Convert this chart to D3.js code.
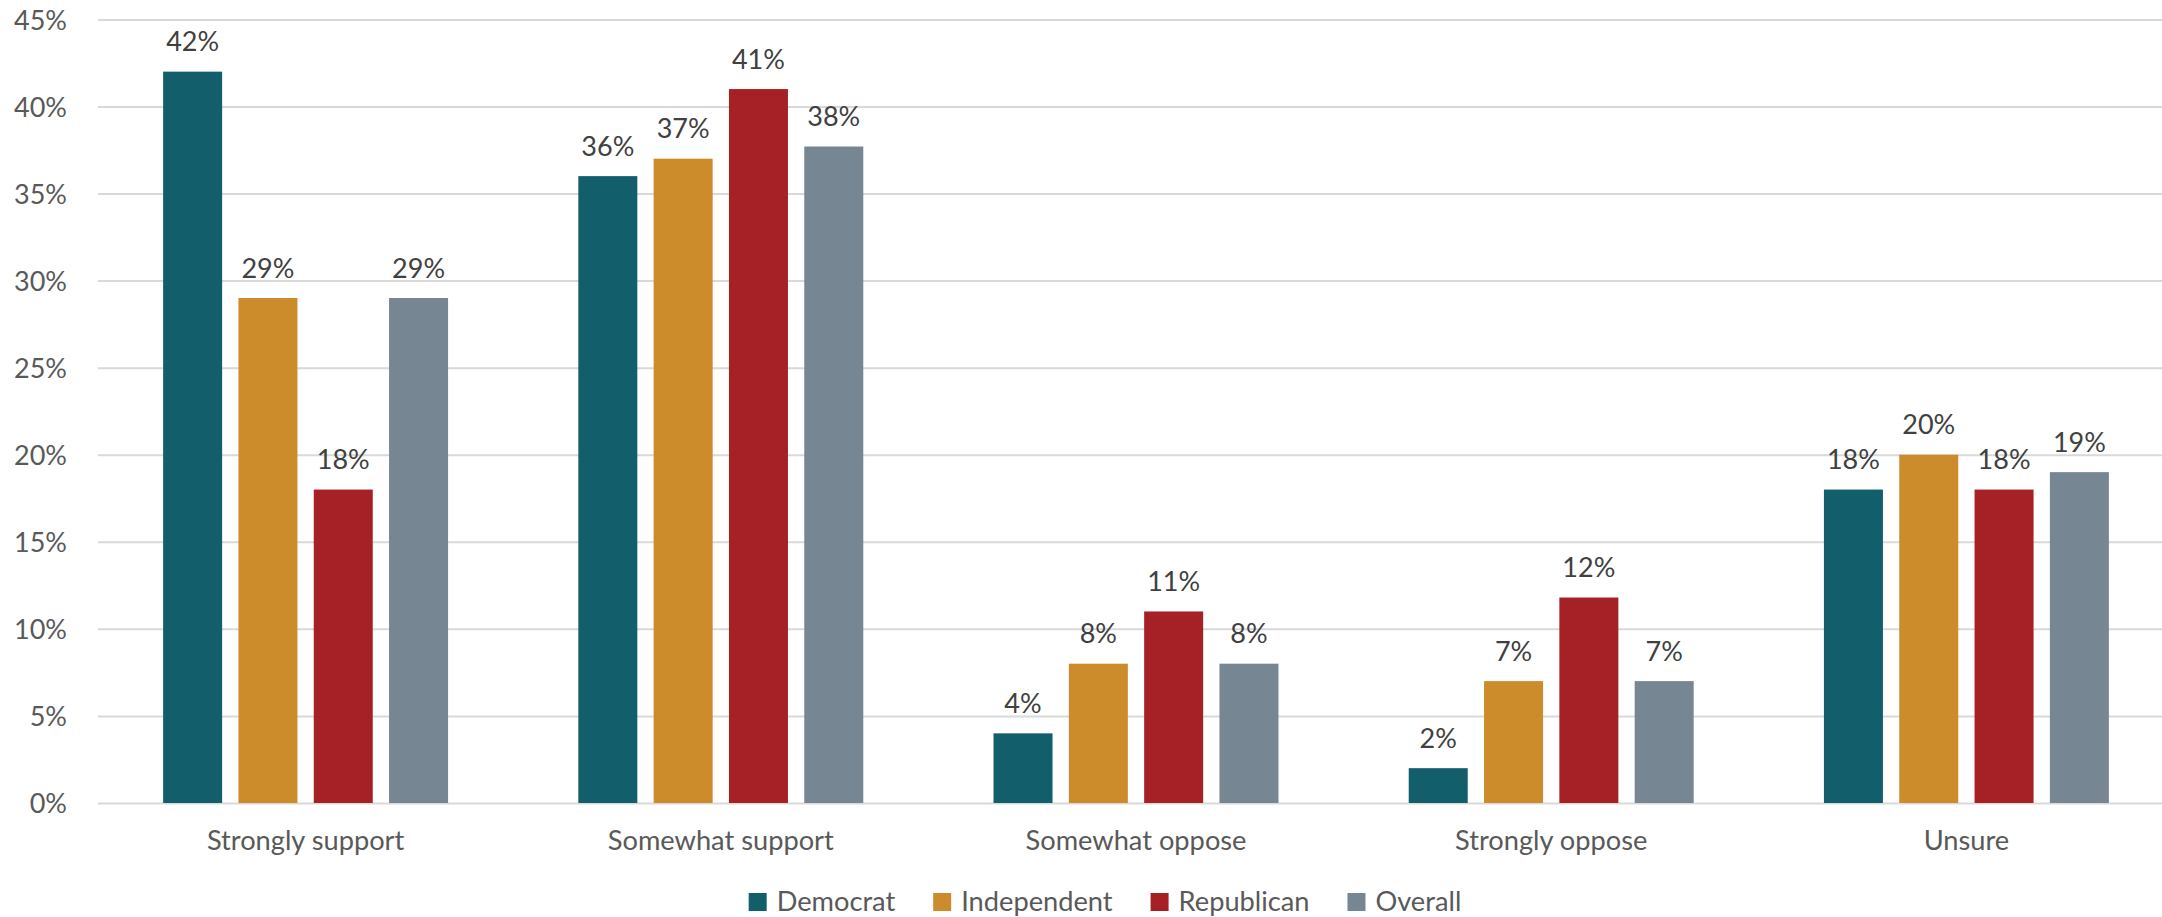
<!DOCTYPE html>
<html>
<head>
<meta charset="utf-8">
<script src="https://cdn.jsdelivr.net/npm/d3@7"></script>
<style>
  html, body { margin: 0; padding: 0; background: #ffffff; }
  svg { display: block; }
</style>
</head>
<body>
<svg id="chart" width="2162" height="917"></svg>
<script>
// ---- Data ----
const categories = ["Strongly support", "Somewhat support", "Somewhat oppose", "Strongly oppose", "Unsure"];
const seriesNames = ["Democrat", "Independent", "Republican", "Overall"];
const democrat    = [42, 36, 4, 2, 18];
const independent = [29, 37, 8, 7, 20];
const republican  = [18, 41, 11, 11.8, 18];
const overall     = [29, 37.7, 8, 7, 19];
const yTickValues = [0, 5, 10, 15, 20, 25, 30, 35, 40, 45];
const seriesColors = ["#135E6B", "#CD8C2C", "#A52126", "#768692"];

const seriesValues = [democrat, independent, republican, overall];

// ---- Layout ----
const W = 2162, H = 917;
const plotLeft = 98, plotRight = 2174, plotTop = 19.4, plotBottom = 803;
const FONT = "Lato, 'Open Sans', sans-serif";

const svg = d3.select("#chart");

// calibrate font sizes so text widths approximate the reference
function fitSize(sample, targetWidth) {
  const t = svg.append("text").attr("font-family", FONT).attr("font-size", 100).text(sample);
  const w = t.node().getComputedTextLength();
  t.remove();
  return 100 * targetWidth / w;
}
const catSize = fitSize("Somewhat support", 226);
const numSize = fitSize("45%", 53);

const x0 = d3.scaleBand()
  .domain(categories)
  .range([plotLeft, plotRight])
  .paddingInner(0.3137)
  .paddingOuter(0.3137 / 2);

const x1 = d3.scaleBand()
  .domain(seriesNames)
  .range([0, x0.bandwidth()])
  .paddingInner(0.2165);

const y = d3.scaleLinear().domain([0, 45]).range([plotBottom, plotTop]);

// gridlines
const yAxis = d3.axisLeft(y)
  .tickValues(yTickValues)
  .tickSize(-(plotRight - plotLeft))
  .tickFormat(d => d + "%");

const gy = svg.append("g")
  .attr("transform", `translate(${plotLeft},0)`)
  .call(yAxis);
gy.select(".domain").remove();
gy.selectAll(".tick line")
  .attr("stroke", "#D9D9D9")
  .attr("stroke-width", 2);
gy.selectAll(".tick text")
  .attr("x", -(plotLeft - 67))
  .attr("dy", "0.36em")
  .attr("fill", "#595959")
  .attr("font-family", FONT)
  .attr("font-size", numSize)
  .attr("text-anchor", "end");

// bars
const groups = svg.append("g").selectAll("g.group")
  .data(categories)
  .join("g")
  .attr("class", "group")
  .attr("transform", d => `translate(${x0(d)},0)`);

groups.each(function(cat, ci) {
  const g = d3.select(this);
  const rows = seriesNames.map((s, si) => ({ s, si, v: seriesValues[si][ci] }));
  g.selectAll("rect")
    .data(rows)
    .join("rect")
    .attr("x", d => x1(d.s))
    .attr("width", x1.bandwidth())
    .attr("y", d => y(d.v))
    .attr("height", d => y(0) - y(d.v))
    .attr("fill", d => seriesColors[d.si]);
  g.selectAll("text.lbl")
    .data(rows)
    .join("text")
    .attr("class", "lbl")
    .attr("x", d => x1(d.s) + x1.bandwidth() / 2)
    .attr("y", d => y(d.v) - 20.5)
    .attr("text-anchor", "middle")
    .attr("fill", "#404040")
    .attr("font-family", FONT)
    .attr("font-size", numSize)
    .text(d => d3.format(".0f")(d.v) + "%");
});

// x axis category labels
const xAxis = d3.axisBottom(x0).tickSize(0).tickPadding(0);
const gx = svg.append("g")
  .attr("transform", `translate(0,${plotBottom})`)
  .call(xAxis);
gx.select(".domain").remove();
gx.selectAll(".tick text")
  .attr("y", 47)
  .attr("dy", 0)
  .attr("fill", "#595959")
  .attr("font-family", FONT)
  .attr("font-size", catSize);

// legend
const legend = svg.append("g");
const items = legend.selectAll("g.item")
  .data(seriesNames)
  .join("g")
  .attr("class", "item");
items.append("rect")
  .attr("width", 18).attr("height", 18)
  .attr("y", 893)
  .attr("fill", (d, i) => seriesColors[i]);
items.append("text")
  .attr("x", 28)
  .attr("y", 911)
  .attr("fill", "#595959")
  .attr("font-family", FONT)
  .attr("font-size", catSize)
  .text(d => d);
let widths = [];
items.each(function() {
  widths.push(28 + d3.select(this).select("text").node().getComputedTextLength());
});
const gap = 38;
const total = d3.sum(widths) + gap * (widths.length - 1);
let cx = 1105 - total / 2;
items.attr("transform", (d, i) => {
  const tx = cx;
  cx += widths[i] + gap;
  return `translate(${tx},0)`;
});
</script>
</body>
</html>
